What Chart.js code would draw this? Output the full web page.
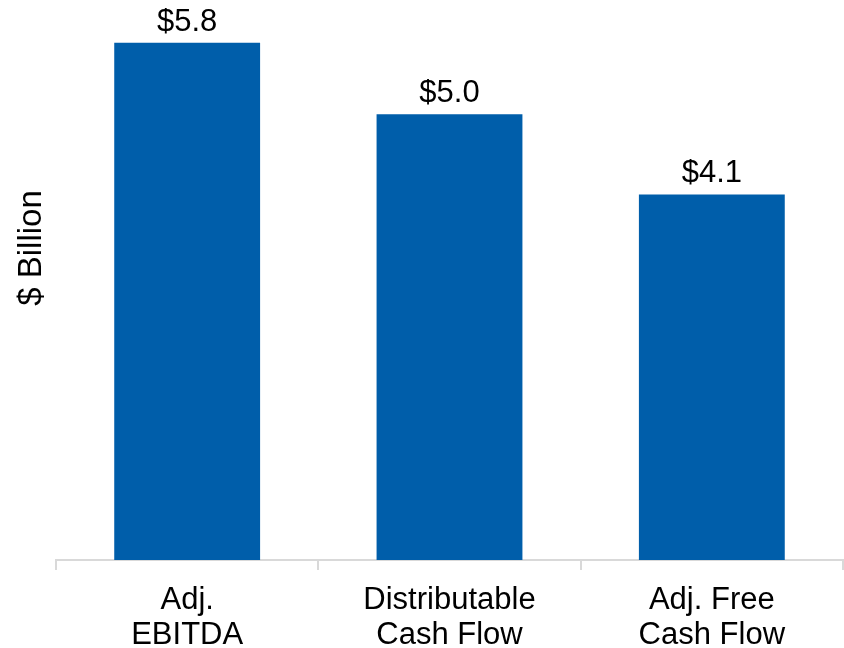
<!DOCTYPE html>
<html>
<head>
<meta charset="utf-8">
<script src="https://cdn.jsdelivr.net/npm/chart.js@4/dist/chart.umd.min.js"></script>
<style>
  html, body { margin: 0; padding: 0; background: #ffffff; }
  #wrap { width: 844px; height: 648px; position: relative; }
</style>
</head>
<body>
<div id="wrap"><canvas id="c" width="844" height="648"></canvas></div>
<script>
const categories = [["Adj.", "EBITDA"], ["Distributable", "Cash Flow"], ["Adj. Free", "Cash Flow"]];
const values = [5.8, 5.0, 4.1];
const valueLabels = ["$5.8", "$5.0", "$4.1"];
const yTitle = "$ Billion";

const FONT = "'Liberation Sans', Arial, sans-serif";

const labelPlugin = {
  id: 'labels',
  afterDatasetsDraw(chart) {
    const ctx = chart.ctx;
    const meta = chart.getDatasetMeta(0);
    ctx.save();
    ctx.font = "31px " + FONT;
    ctx.fillStyle = "#000000";
    ctx.textAlign = "center";
    ctx.textBaseline = "alphabetic";
    meta.data.forEach((bar, i) => {
      ctx.fillText(valueLabels[i], bar.x, bar.y - 12);
    });
    // y axis title
    ctx.font = "33px " + FONT;
    ctx.translate(32, 248);
    ctx.rotate(-Math.PI / 2);
    ctx.textBaseline = "middle";
    ctx.fillText(yTitle, 0, 0);
    ctx.restore();
  }
};

new Chart(document.getElementById('c'), {
  type: 'bar',
  data: {
    labels: categories,
    datasets: [{
      data: values,
      backgroundColor: '#005EAA',
      borderWidth: 0,
      categoryPercentage: 1.0,
      barPercentage: 0.556
    }]
  },
  options: {
    responsive: false,
    animation: false,
    layout: { padding: { left: 56, right: 1, top: 25, bottom: 0 } },
    plugins: { legend: { display: false }, tooltip: { enabled: false } },
    scales: {
      x: {
        grid: { display: true, drawOnChartArea: false, drawTicks: true, tickLength: 10, color: '#d9d9d9', lineWidth: 2 },
        border: { display: true, color: '#d9d9d9', width: 2 },
        ticks: { color: '#000000', font: { family: FONT, size: 31, lineHeight: 1.13 }, padding: 13, maxRotation: 0, autoSkip: false },
        afterFit(scale) { scale.height = 88; }
      },
      y: {
        display: false,
        min: 0,
        max: 6
      }
    }
  },
  plugins: [labelPlugin]
});
</script>
</body>
</html>
